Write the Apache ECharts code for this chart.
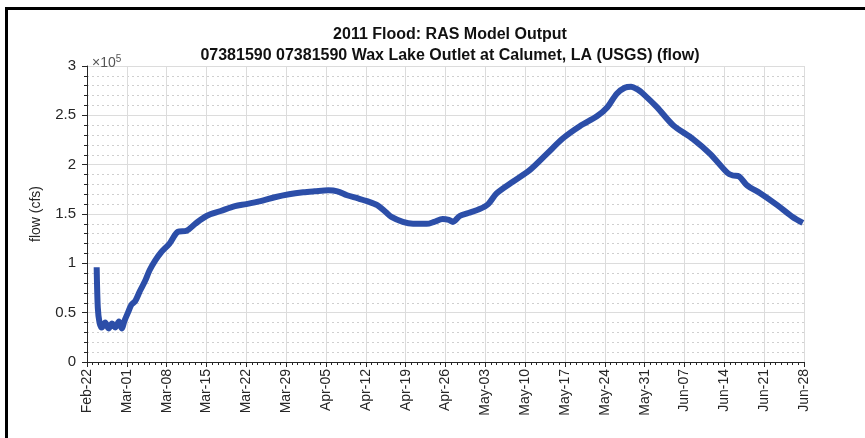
<!DOCTYPE html>
<html>
<head>
<meta charset="utf-8">
<script src="https://cdn.jsdelivr.net/npm/echarts@6/dist/echarts.min.js"></script>
<style>
  html, body { margin: 0; padding: 0; background: #fff; }
  #main { width: 865px; height: 438px; }
  #frame { position: absolute; top: 7px; left: 5px; right: 0; bottom: 0;
           border-top: 3px solid #000; border-left: 3px solid #000; pointer-events: none; }
</style>
</head>
<body>
<div id="main"></div>
<div id="frame"></div>
<script>
var chartDom = document.getElementById('main');
var myChart = echarts.init(chartDom);
var option;

// days after Feb-22 (2011)
const dayOffset = [
  1.7, 1.9, 2.2, 2.6, 3.2, 3.8, 4.4, 5.0, 5.6, 6.1, 6.6, 7.2, 7.8, 8.5, 9.3, 10.2, 11.0, 12.0, 13.0, 14.5,
  16.0, 17.5, 19.0, 21.0, 23.5, 26.0, 28.0, 30.5, 33.0, 35.5, 38.0, 40.0, 42.4, 44.0, 45.7, 47.5, 49.2, 51.0,
  52.5, 53.5, 55.5, 57.3, 59.7, 61.0, 62.5, 63.6, 64.3, 65.5, 67.0, 69.0, 70.5, 72.0, 74.9, 77.9, 80.8, 83.7,
  86.6, 89.6, 91.4, 93.1, 94.5, 95.6, 96.8, 97.7, 100.2, 103.0, 106.5, 109.5, 112.5, 113.5, 114.6, 116.0,
  118.3, 121.3, 124.0, 125.8
];
// flow, cfs
const flowCfs = [
  96000, 55000, 40000, 35000, 40000, 34000, 39000, 35000, 41000, 34000, 42000, 50000, 58000, 62000, 72000, 82000, 93000, 103000, 111000, 120000,
  132000, 133000, 140000, 148000, 153000, 158000, 160000, 163000, 167000, 170000, 172000, 173000, 174000, 173000, 169000, 166000, 163000, 159000,
  152000, 147000, 142000, 140000, 140000, 142000, 145000, 144000, 142000, 148000, 151000, 155000, 160000, 171000, 183000, 195000, 211000, 227000,
  239000, 249000, 258000, 272000, 278000, 279000, 276000, 272000, 258000, 240000, 226000, 211000, 192000, 189000, 188000, 179000,
  171000, 159000, 147000, 141000
];

const tickLabels = [
  'Feb-22', 'Mar-01', 'Mar-08', 'Mar-15', 'Mar-22', 'Mar-29', 'Apr-05', 'Apr-12', 'Apr-19', 'Apr-26',
  'May-03', 'May-10', 'May-17', 'May-24', 'May-31', 'Jun-07', 'Jun-14', 'Jun-21', 'Jun-28'
];

const seriesData = dayOffset.map((d, i) => [d, flowCfs[i]]);

const axisColor = '#262626';
const gridColor = '#dcdcdc';

option = {
  animation: false,
  title: [
    {
      text: '2011 Flood: RAS Model Output\n07381590 07381590 Wax Lake Outlet at Calumet, LA (USGS) (flow)',
      left: 445,
      top: 19,
      textAlign: 'center',
      textStyle: {
        fontFamily: 'Liberation Sans',
        fontSize: 16,
        fontWeight: 'bold',
        color: '#111',
        lineHeight: 21
      }
    },
    {
      text: '×10{sup|5}',
      left: 87,
      top: 49,
      textStyle: {
        fontFamily: 'Liberation Sans',
        fontSize: 14,
        fontWeight: 'normal',
        color: '#555',
        rich: {
          sup: { fontSize: 10, verticalAlign: 'top', color: '#555', padding: [0, 0, 8, 0] }
        }
      }
    }
  ],
  grid: {
    left: 87,
    right: 61,
    top: 66,
    bottom: 76
  },
  xAxis: {
    type: 'value',
    min: 0,
    max: 126,
    interval: 7,
    axisLine: { show: true, onZero: false, lineStyle: { color: axisColor } },
    axisTick: { show: true, length: 5, lineStyle: { color: axisColor } },
    minorTick: { show: true, splitNumber: 7, length: 3, lineStyle: { color: axisColor } },
    splitLine: { show: true, lineStyle: { color: gridColor, width: 1 } },
    axisLabel: {
      rotate: 90,
      margin: 7,
      fontFamily: 'Liberation Sans',
      fontSize: 14,
      color: axisColor,
      formatter: function (v) { return tickLabels[Math.round(v / 7)]; }
    }
  },
  yAxis: {
    type: 'value',
    min: 0,
    max: 300000,
    interval: 50000,
    name: 'flow (cfs)',
    nameLocation: 'middle',
    nameGap: 44,
    nameTextStyle: { fontFamily: 'Liberation Sans', fontSize: 14, color: axisColor },
    axisLine: { show: true, lineStyle: { color: axisColor } },
    axisTick: { show: true, length: 5, lineStyle: { color: axisColor } },
    minorTick: { show: true, splitNumber: 5, length: 3, lineStyle: { color: axisColor } },
    splitLine: { show: true, lineStyle: { color: gridColor, width: 1 } },
    minorSplitLine: { show: true, lineStyle: { color: '#cfcfcf', type: [2, 3], width: 1 } },
    axisLabel: {
      margin: 11,
      fontFamily: 'Liberation Sans',
      fontSize: 15,
      color: axisColor,
      formatter: function (v) { return String(v / 100000); }
    }
  },
  series: [
    {
      name: 'flow',
      type: 'line',
      data: seriesData,
      showSymbol: false,
      smooth: 0.3,
      lineStyle: { color: '#2c4ea8', width: 6 },
      itemStyle: { color: '#2c4ea8' }
    }
  ]
};

option && myChart.setOption(option);
</script>
</body>
</html>
